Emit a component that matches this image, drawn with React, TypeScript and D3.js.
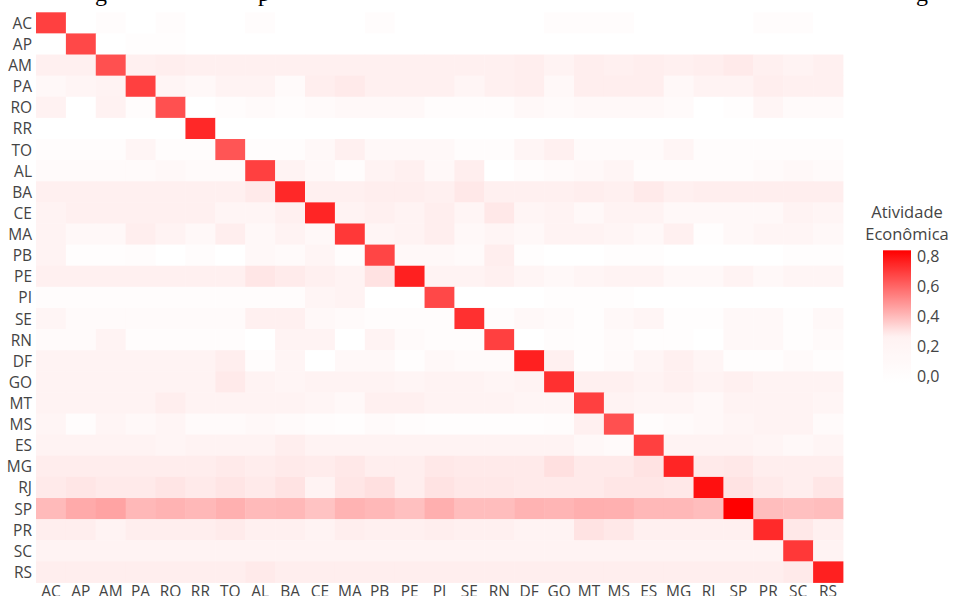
import React from 'react';
import * as d3 from 'd3';

const states = ['AC','AP','AM','PA','RO','RR','TO','AL','BA','CE','MA','PB','PE','PI','SE','RN','DF','GO','MT','MS','ES','MG','RJ','SP','PR','SC','RS'];

// one array per row (origin state), columns in the same order as `states`
const rowAC = [0.687,-0.04,0.02,-0.04,0.02,-0.045,-0.04,0.02,-0.04,-0.04,-0.04,0.02,-0.04,-0.04,-0.04,-0.04,-0.04,0.02,0.02,0.03,-0.04,-0.04,-0.04,-0.04,0.03,0.03,-0.04];
const rowAP = [-0.04,0.668,-0.04,0.0,0.0,-0.047,-0.04,-0.04,-0.04,-0.04,-0.04,-0.04,-0.04,-0.04,-0.04,-0.04,-0.04,-0.04,-0.04,-0.04,-0.04,-0.04,-0.04,-0.04,-0.04,-0.04,-0.04];
const rowAM = [0.266,0.266,0.649,0.266,0.271,0.266,0.266,0.266,0.266,0.266,0.266,0.266,0.266,0.266,0.266,0.266,0.271,0.24,0.271,0.266,0.271,0.266,0.271,0.283,0.266,0.24,0.266];
const rowPA = [0.12,0.19,0.24,0.687,0.19,0.12,0.24,0.24,0.07,0.271,0.283,0.266,0.266,0.266,0.19,0.266,0.271,0.12,0.271,0.271,0.271,0.12,0.24,0.24,0.271,0.266,0.266];
const rowRO = [0.25,-0.04,0.25,0.02,0.649,-0.04,0.02,0.07,0.02,0.07,0.12,0.12,0.12,0.02,0.02,0.02,0.12,0.07,0.12,0.12,0.12,0.07,-0.04,0.0,0.19,0.07,0.07];
const rowRR = [-0.045,-0.045,-0.045,-0.045,-0.045,0.744,-0.045,-0.045,-0.045,-0.045,-0.045,-0.045,-0.045,-0.045,-0.045,-0.045,-0.045,-0.045,-0.045,-0.045,-0.045,-0.045,-0.045,-0.045,-0.045,-0.045,-0.045];
const rowTO = [0.02,0.02,0.02,0.19,0.02,0.02,0.637,0.02,0.02,0.12,0.266,0.12,0.12,0.12,0.02,0.02,0.19,0.266,0.07,0.07,0.07,0.19,0.02,0.02,0.02,0.02,0.02];
const rowAL = [0.07,0.07,0.07,0.07,0.12,0.07,0.07,0.687,0.24,0.12,0.02,0.24,0.266,0.12,0.271,-0.04,0.02,0.07,0.12,0.19,0.02,0.02,0.02,0.02,0.07,0.12,0.07];
const rowBA = [0.266,0.266,0.266,0.266,0.266,0.266,0.266,0.283,0.744,0.266,0.266,0.271,0.271,0.266,0.289,0.266,0.266,0.266,0.271,0.266,0.283,0.266,0.271,0.271,0.271,0.271,0.271];
const rowCE = [0.24,0.266,0.266,0.266,0.266,0.266,0.19,0.19,0.266,0.751,0.24,0.266,0.24,0.271,0.19,0.289,0.19,0.24,0.12,0.24,0.24,0.12,0.12,0.12,0.12,0.24,0.19];
const rowMA = [0.24,0.12,0.12,0.271,0.24,0.12,0.271,0.12,0.24,0.12,0.706,0.19,0.24,0.271,0.12,0.19,0.12,0.24,0.24,0.19,0.12,0.266,0.0,0.12,0.19,0.19,0.12];
const rowPB = [0.24,0.0,0.0,0.02,-0.04,0.02,-0.04,0.12,0.07,0.19,0.02,0.675,0.12,0.12,0.07,0.271,0.0,-0.04,-0.04,0.0,0.0,-0.04,-0.04,-0.04,-0.04,0.0,0.0];
const rowPE = [0.266,0.266,0.266,0.266,0.266,0.266,0.266,0.294,0.28,0.266,0.24,0.305,0.762,0.24,0.24,0.266,0.19,0.12,0.19,0.24,0.24,0.12,0.12,0.24,0.12,0.19,0.19];
const rowPI = [0.02,0.02,0.02,0.02,0.02,0.02,0.02,0.02,0.02,0.19,0.24,-0.04,-0.04,0.668,-0.04,-0.04,-0.04,0.0,0.0,0.0,-0.04,-0.04,-0.04,-0.04,-0.04,-0.04,-0.04];
const rowSE = [0.19,0.07,0.07,0.07,0.07,0.07,0.07,0.266,0.266,0.12,0.07,0.02,0.02,0.02,0.725,0.02,0.12,0.07,0.0,0.12,0.19,0.0,0.0,0.12,0.12,0.0,0.12];
const rowRN = [0.07,0.07,0.24,0.02,0.02,0.02,0.02,-0.04,0.24,0.24,-0.04,0.24,0.07,0.02,0.02,0.687,-0.04,0.02,0.0,0.07,0.0,0.0,-0.04,0.12,0.12,0.0,0.07];
const rowDF = [0.24,0.24,0.24,0.24,0.24,0.24,0.271,0.02,0.19,-0.04,0.12,0.12,0.0,0.12,0.07,0.07,0.762,0.266,0.0,0.07,0.19,0.266,0.19,0.0,0.0,0.07,0.0];
const rowGO = [0.24,0.24,0.24,0.24,0.24,0.24,0.283,0.24,0.19,0.24,0.24,0.24,0.19,0.24,0.24,0.19,0.24,0.725,0.266,0.266,0.24,0.266,0.24,0.266,0.24,0.24,0.24];
const rowMT = [0.24,0.24,0.24,0.24,0.271,0.24,0.24,0.24,0.24,0.19,0.12,0.266,0.266,0.24,0.24,0.24,0.19,0.19,0.687,0.24,0.19,0.19,0.12,0.24,0.24,0.24,0.19];
const rowMS = [0.19,0.02,0.19,0.12,0.19,0.07,0.07,0.12,0.07,0.02,0.0,0.07,0.02,0.0,0.0,0.0,0.0,0.02,0.266,0.649,0.02,0.07,0.12,0.19,0.24,0.24,0.07];
const rowES = [0.24,0.24,0.24,0.24,0.19,0.24,0.24,0.24,0.271,0.24,0.24,0.24,0.24,0.24,0.24,0.24,0.24,0.24,0.12,0.07,0.687,0.24,0.24,0.24,0.19,0.12,0.19];
const rowMG = [0.274,0.274,0.274,0.274,0.274,0.274,0.283,0.274,0.283,0.277,0.289,0.271,0.271,0.289,0.283,0.283,0.283,0.309,0.283,0.283,0.302,0.751,0.283,0.289,0.271,0.271,0.271];
const rowRJ = [0.283,0.294,0.283,0.283,0.297,0.283,0.297,0.283,0.302,0.24,0.294,0.309,0.271,0.302,0.289,0.289,0.283,0.283,0.283,0.294,0.294,0.289,0.80,0.302,0.283,0.271,0.294];
const rowSP = [0.399,0.437,0.453,0.404,0.415,0.404,0.422,0.399,0.404,0.378,0.415,0.404,0.385,0.425,0.392,0.392,0.415,0.411,0.425,0.422,0.404,0.404,0.392,0.838,0.392,0.385,0.392];
const rowPR = [0.271,0.271,0.24,0.271,0.271,0.271,0.28,0.266,0.266,0.24,0.271,0.266,0.266,0.271,0.266,0.266,0.24,0.24,0.302,0.289,0.266,0.266,0.266,0.266,0.739,0.289,0.266];
const rowSC = [0.24,0.24,0.24,0.24,0.24,0.24,0.24,0.24,0.24,0.24,0.24,0.24,0.24,0.24,0.24,0.24,0.24,0.24,0.24,0.24,0.24,0.24,0.24,0.24,0.24,0.706,0.24];
const rowRS = [0.271,0.271,0.271,0.271,0.271,0.271,0.271,0.283,0.271,0.271,0.271,0.271,0.271,0.271,0.271,0.271,0.271,0.271,0.271,0.271,0.271,0.271,0.271,0.271,0.271,0.283,0.762];

const rows = [rowAC,rowAP,rowAM,rowPA,rowRO,rowRR,rowTO,rowAL,rowBA,rowCE,rowMA,rowPB,rowPE,rowPI,rowSE,rowRN,rowDF,rowGO,rowMT,rowMS,rowES,rowMG,rowRJ,rowSP,rowPR,rowSC,rowRS];

const legendTicks = [0, 0.2, 0.4, 0.6, 0.8];
const colorStopValues = [0.26, 0.30];
const colorStopColors = ['#ffffff', '#fff2f2', '#ffe4e4', '#ff0000'];
const legendTitle = ['Atividade', 'Econômica'];

const FONT = '"Open Sans", "Liberation Sans", Arial, sans-serif';

export default function App() {
  const W = 953, H = 596;
  const left = 36, right = 843, top = 12.3, bottom = 582.5;

  const all = rows.flat();
  const [vmin, vmax] = d3.extent(all) as [number, number];

  const x = d3.scaleBand<string>().domain(states).range([left, right]);
  const y = d3.scaleBand<string>().domain(states).range([top, bottom]);
  const color = d3.scaleLinear<string>()
    .domain([vmin, ...colorStopValues, vmax])
    .range(colorStopColors)
    .clamp(true);

  const ly = d3.scaleLinear().domain([0, 0.8]).range([376, 256]);
  const fmt = (v: number) => d3.format('.1f')(v).replace('.', ',');

  const gradStops = d3.range(0, 41).map(i => {
    const t = i / 40;
    const v = vmin + t * (vmax - vmin);
    return { offset: t, c: color(v) };
  });

  const cells: JSX.Element[] = [];
  rows.forEach((r, ri) => {
    r.forEach((v, ci) => {
      cells.push(
        <rect key={`${ri}-${ci}`} x={x(states[ci])} y={y(states[ri])}
          width={x.bandwidth() + 0.4} height={y.bandwidth() + 0.4} fill={color(v)} />
      );
    });
  });

  return (
    <svg width={W} height={H} style={{ position: 'absolute', left: 0, top: 0, background: '#fff' }}>
      <defs>
        <linearGradient id="lg" x1="0" y1="1" x2="0" y2="0">
          {gradStops.map((s, i) => <stop key={i} offset={s.offset} stopColor={s.c} />)}
        </linearGradient>
      </defs>
      {/* cut-off caption line above the figure (only descenders visible) */}
      <g fontFamily='"Liberation Serif", "Times New Roman", serif' fontSize={24} fill="#000">
        <text x={101} y={0.5} textAnchor="middle">g</text>
        <text x={264} y={0.5} textAnchor="middle">p</text>
        <text x={922} y={0.5} textAnchor="middle">g</text>
      </g>
      <g>{cells}</g>
      <g fontFamily={FONT} fontSize={15.5} fill="#444">
        {states.map(s => (
          <text key={'r' + s} x={left - 4} y={(y(s) as number) + y.bandwidth() / 2} textAnchor="end" dominantBaseline="central">{s}</text>
        ))}
        {states.map(s => (
          <text key={'c' + s} x={(x(s) as number) + x.bandwidth() / 2} y={597} textAnchor="middle">{s}</text>
        ))}
      </g>
      <g fontFamily={FONT} fill="#444">
        {legendTitle.map((t, i) => (
          <text key={t} x={907} y={218 + i * 21.5} textAnchor="middle" fontSize={16.5}>{t}</text>
        ))}
        <rect x={883} y={ly(vmax)} width={28} height={ly(vmin) - ly(vmax)} fill="url(#lg)" />
        {legendTicks.map(t => (
          <text key={t} x={917} y={ly(t)} dominantBaseline="central" fontSize={16}>{fmt(t)}</text>
        ))}
      </g>
    </svg>
  );
}
